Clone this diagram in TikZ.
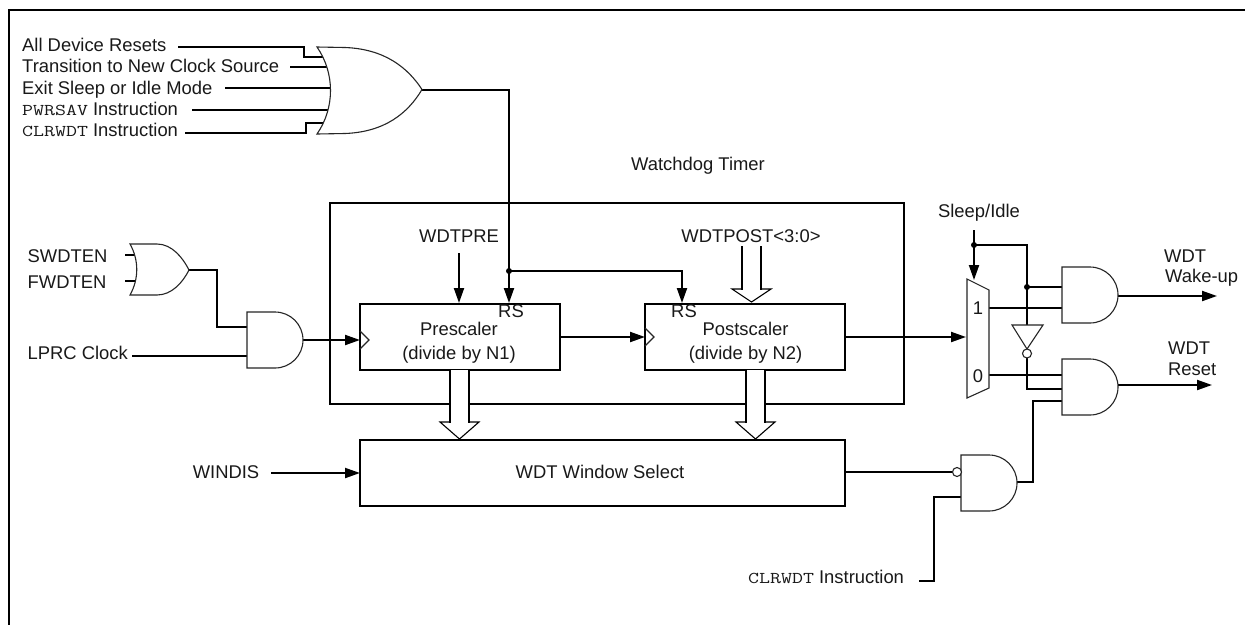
\documentclass[tikz,border=0pt]{standalone}
\usepackage{fontspec}
\usepackage{graphicx}
\setmainfont{Liberation Sans}
\usetikzlibrary{arrows.meta}
\newcommand{\wdtcode}[1]{\scalebox{1.29}[1]{\fontsize{16.5}{18}\ttfamily #1}}
\tikzset{
  wire/.style={line width=2pt,line join=miter,black},
  arrowwire/.style={wire,-{Triangle[length=15pt,width=10pt]}},
  gateline/.style={line width=1.1pt,draw=black!85,fill=white,line join=miter},
  blk/.style={draw,line width=2pt,inner sep=0pt,outer sep=0pt,rectangle,fill=none},
  lbl/.style={font=\fontsize{18.4}{20}\selectfont,inner sep=0pt,text=black!90},
  ctext/.style={lbl,anchor=base},
  ltext/.style={lbl,anchor=base west},
  dotn/.style={circle,fill=black,inner sep=0pt,minimum size=6pt},
  bubble/.style={circle,draw=black!85,fill=white,line width=1.1pt,inner sep=0pt,minimum size=9pt,outer sep=0pt},
  busthin/.style={line width=1.1pt,draw=black,fill=white,line join=miter},
}
% AND gate outline: left x, top y
\newcommand{\andshape}[2]{%
  \path[gateline] (#1,#2) -- ({#1+28},#2) .. controls ({#1+43.5},#2) and ({#1+56},{#2+12.5}) .. ({#1+56},{#2+28})
   .. controls ({#1+56},{#2+43.5}) and ({#1+43.5},{#2+56}) .. ({#1+28},{#2+56}) -- (#1,{#2+56}) -- cycle;}
% hollow bus arrow: left x, right x, top y, shoulder y, tip y, left width, right width
\newcommand{\busarrow}[7]{%
  \path[busthin] (#1,#3) -- (#1,#4) -- ({#1-10},#4) -- ({(#1+#2)/2},#5) -- ({#2+10},#4) -- (#2,#4) -- (#2,#3);
  \draw[line width=#6,line cap=butt] (#1,#3) -- (#1,{#4+0.5});
  \draw[line width=#7,line cap=butt] (#2,#3) -- (#2,{#4+0.5});}
\begin{document}
\begin{tikzpicture}[x=1pt,y=-1pt]
\useasboundingbox[fill=white] (0,0) rectangle (1245,625);
% sheet frame
\coordinate (frameTR) at (1245,10);
\coordinate (frameTL) at (9,10);
\coordinate (frameBL) at (9,625);
\draw[wire] (frameTR) -- (frameTL) -- (frameBL);

% blocks
\node[blk,minimum width=574pt,minimum height=201pt] (wdt) at (617,303.5) {};
\node[blk,minimum width=200pt,minimum height=66pt] (pre) at (460,337) {};
\node[blk,minimum width=200pt,minimum height=66pt] (post) at (745,337) {};
\node[blk,minimum width=485pt,minimum height=66pt] (win) at (602.5,473) {};

% labels
\node[ltext] (l1) at (22,51) {All Device Resets};
\node[ltext] (l2) at (22,72) {Transition to New Clock Source};
\node[ltext] (l3) at (22,94) {Exit Sleep or Idle Mode};
\node[ltext] (l4) at (22,115) {\wdtcode{PWRSAV} Instruction};
\node[ltext] (l5) at (22,136) {\wdtcode{CLRWDT} Instruction};
\node[ctext] (lwt) at (698,170) {Watchdog Timer};
\node[ltext] (lsw) at (27.5,262) {SWDTEN};
\node[ltext] (lfw) at (27.5,288) {FWDTEN};
\node[ltext] (llp) at (27.5,359) {LPRC Clock};
\node[ctext] (lwp) at (459,242) {WDTPRE};
\node[ctext] (lwq) at (751,242) {WDTPOST<3:0>};
\node[ctext] (lrs1) at (511,317) {RS};
\node[ctext] (lrs2) at (684,317) {RS};
\node[ctext] (lpr1) at (459,335) {Prescaler};
\node[ctext] (lpr2) at (459,359) {(divide by N1)};
\node[ctext] (lpo1) at (745.5,335) {Postscaler};
\node[ctext] (lpo2) at (745.5,359) {(divide by N2)};
\node[ctext] (lws) at (600,478) {WDT Window Select};
\node[ctext] (lwi) at (226,478) {WINDIS};
\node[ctext] (lsl) at (979,217) {Sleep/Idle};
\node[ltext] (lwa) at (1164,262) {WDT};
\node[ltext] (lwb) at (1165,282) {Wake-up};
\node[ltext] (lra) at (1168,354) {WDT};
\node[ltext] (lrb) at (1168,375) {Reset};
\node[ltext] (lcl) at (748,583) {\wdtcode{CLRWDT} Instruction};

% port coordinates
\coordinate (a1) at (178,47);  \coordinate (a1b) at (304,47); \coordinate (a1c) at (304,57); \coordinate (a1d) at (325,57);
\coordinate (a2) at (290,67);  \coordinate (a2d) at (329,67);
\coordinate (a3) at (225,88);  \coordinate (a3d) at (330,88);
\coordinate (a4) at (192,110); \coordinate (a4d) at (329,110);
\coordinate (a5) at (185,133); \coordinate (a5b) at (306,133); \coordinate (a5c) at (306,123); \coordinate (a5d) at (325,123);
\coordinate (orA) at (422,90);
\coordinate (orAb) at (509,90);
\coordinate (rs1) at (509,303);
\coordinate (swi) at (125,255); \coordinate (swd) at (136,255);
\coordinate (fwi) at (125,281); \coordinate (fwd) at (136,281);
\coordinate (orB) at (189,270);
\coordinate (andAi1) at (247,327);
\coordinate (andAi2) at (247,356);
\coordinate (lpS) at (132,356);
\coordinate (andAo) at (303,340);
\coordinate (preck) at (360,340);
\coordinate (wpS) at (459,253);
\coordinate (wpE) at (459,303);
\node[dotn] (j1) at (509,271) {};
\coordinate (rs2) at (682,303);
\coordinate (muxin) at (966,337);
\coordinate (winS) at (271,473);
\coordinate (slS) at (974,230);
\coordinate (slE) at (974,280);
\node[dotn] (j2) at (974,245) {};
\node[dotn] (j3) at (1027,287) {};
\coordinate (invT) at (1027,325);
\coordinate (invB) at (1027,353);
\coordinate (mux1) at (989,308);
\coordinate (mux0) at (989,375);
\coordinate (g1a) at (1062,287);
\coordinate (g1b) at (1062,308);
\coordinate (g1o) at (1118,296);
\coordinate (wakeE) at (1217,296);
\coordinate (g2a) at (1062,375);
\coordinate (g2b) at (1062,389);
\coordinate (g2c) at (1062,401);
\coordinate (g2o) at (1118,385);
\coordinate (resetE) at (1212,385);
\coordinate (n1) at (957,472);
\coordinate (n2) at (961,497);
\coordinate (no) at (1017,482);
\coordinate (clS) at (919,581);

% wires
\draw[wire] (a1) -- (a1b) -- (a1c) -- (a1d);
\draw[wire] (a2) -- (a2d);
\draw[wire] (a3) -- (a3d);
\draw[wire] (a4) -- (a4d);
\draw[wire] (a5) -- (a5b) -- (a5c) -- (a5d);
\draw[arrowwire] (orA) -- (orAb) -- (rs1);
\draw[arrowwire] (j1.center) -| (rs2);
\draw[wire] (swi) -- (swd);
\draw[wire] (fwi) -- (fwd);
\draw[wire] (orB) -| (217,327) -- (andAi1);
\draw[wire] (lpS) -- (andAi2);
\draw[arrowwire] (andAo) -- (preck);
\draw[arrowwire] (wpS) -- (wpE);
\draw[arrowwire] (pre.east) -- (post.west);
\draw[arrowwire] (post.east) -- (muxin);
\draw[arrowwire] (winS) -- (win.west);
\draw[arrowwire] (slS) -- (slE);
\draw[wire] (j2.center) -| (invT);
\draw[wire] (j3.center) -- (g1a);
\draw[wire] (mux1) -- (g1b);
\draw[arrowwire] (g1o) -- (wakeE);
\draw[wire] (mux0) -- (g2a);
\draw[wire] (invB) |- (g2b);
\draw[wire] (no) -| (1033,401) -- (g2c);
\draw[arrowwire] (g2o) -- (resetE);
\draw[wire] (win.east |- n1) -- (n1);
\draw[wire] (clS) -| (934,497) -- (n2);

% bus arrows
\busarrow{742}{761}{246}{289}{302}{2pt}{1.1pt}
\busarrow{450}{469}{370}{422}{439}{2pt}{2pt}
\busarrow{746}{765}{370}{422}{439}{2pt}{2pt}

% clock triangles
\draw[line width=1.1pt,black!85] (360,331) -- (369,340) -- (360,349);
\draw[line width=1.1pt,black!85] (645,328) -- (654,337) -- (645,346);

% gates
\path[gateline] (317,47) -- (345,47.5) .. controls (385,49) and (408,68) .. (422,89.5)
  .. controls (408,113) and (385,132) .. (345,133.5) -- (317,134)
  .. controls (335,108) and (335,73) .. (317,47) -- cycle;
\path[gateline] (130,244) -- (157,244) .. controls (172,244) and (183,258) .. (189,270)
  .. controls (183,282) and (172,295) .. (157,295) -- (130,295)
  .. controls (139,279) and (139,260) .. (130,244) -- cycle;
\andshape{247}{312}
\andshape{1062}{267}
\andshape{1062}{359}
\andshape{961}{455}
\node[bubble] (nb) at (n1) {};
% multiplexer
\path[gateline] (967,279) -- (989,290) -- (989,388) -- (967,398) -- cycle;
\node[ctext] (lm1) at (978,314) {1};
\node[ctext] (lm0) at (978,382) {0};
% inverter
\path[gateline] (1012,325) -- (1043,325) -- (1027,349) -- cycle;
\node[bubble] (ib) at (1027,353.5) {};
\end{tikzpicture}
\end{document}
